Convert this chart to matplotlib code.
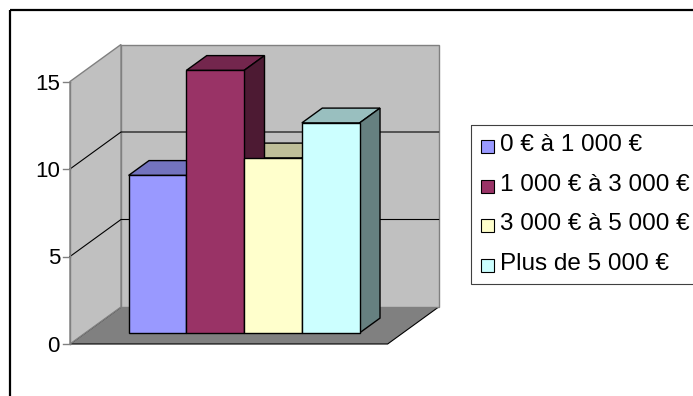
import numpy as np
import matplotlib
matplotlib.use("Agg")
import matplotlib.pyplot as plt
from matplotlib.patches import Polygon, Rectangle

plt.rcParams['font.family'] = ['Liberation Sans', 'DejaVu Sans']

# Données
series = ["0 € à 1 000 €", "1 000 € à 3 000 €", "3 000 € à 5 000 €", "Plus de 5 000 €"]
valeurs = [9, 15, 10, 12]
couleurs = ["#9999FF", "#993366", "#FFFFCC", "#CCFFFF"]
graduations = [0, 5, 10, 15]
y_max = 15

# Géométrie de la vue 3D (unités : largeur de barre en x, valeur en y)
px_x = 57.75          # pixels par largeur de barre
px_y = 17.5           # pixels par unité de valeur
dx, dy = 51 / px_x, 37 / px_y     # profondeur totale
gap = 0.75            # demi-espacement (150 %)
largeur = len(valeurs) + 2 * gap
z0, z1 = 0.3, 0.7     # profondeur des barres


def ombre(c, f):
    r, g, b = matplotlib.colors.to_rgb(c)
    return (r * f, g * f, b * f)


fig = plt.figure(figsize=(6.93, 3.96), dpi=100)
ax = fig.add_axes([0, 0, 1, 1])
ax.set_xlim(-70 / px_x, 623 / px_x)
ax.set_ylim(-52 / px_y, 344 / px_y)
ax.axis("off")

# Murs et sol
gris = "#C0C0C0"
ax.add_patch(Polygon([(0, 0), (largeur, 0), (largeur + dx, dy), (dx, dy)],
                     closed=True, fc="#808080", ec="black", lw=0.8, zorder=1))
ax.add_patch(Polygon([(dx, dy), (largeur + dx, dy), (largeur + dx, y_max + dy), (dx, y_max + dy)],
                     closed=True, fc=gris, ec="#808080", lw=1, zorder=1))
ax.add_patch(Polygon([(0, 0), (dx, dy), (dx, y_max + dy), (0, y_max)],
                     closed=True, fc=gris, ec="#808080", lw=1, zorder=1))

# Quadrillage
for v in graduations[1:-1]:
    ax.plot([0, dx, largeur + dx], [v, v + dy, v + dy], color="black", lw=0.8, zorder=2)

# Axe vertical, graduations
ax.plot([0, 0], [0, y_max], color="#808080", lw=1, zorder=2)
for v in graduations:
    ax.plot([-7 / px_x, 0], [v, v], color="#808080", lw=1, zorder=2)
    ax.text(-10 / px_x, v, str(v), ha="right", va="center_baseline", fontsize=16, zorder=3)

# Barres : dessus, côtés puis faces avant
xs = [gap + i + z0 * dx for i in range(len(valeurs))]
yb = z0 * dy
ddx, ddy = (z1 - z0) * dx, (z1 - z0) * dy
for x0, v, c in zip(xs, valeurs, couleurs):
    ax.add_patch(Polygon([(x0, yb + v), (x0 + 1, yb + v), (x0 + 1 + ddx, yb + v + ddy), (x0 + ddx, yb + v + ddy)],
                         closed=True, fc=ombre(c, 0.75), ec="black", lw=1, zorder=4))
for x0, v, c in zip(xs, valeurs, couleurs):
    ax.add_patch(Polygon([(x0 + 1, yb), (x0 + 1 + ddx, yb + ddy), (x0 + 1 + ddx, yb + v + ddy), (x0 + 1, yb + v)],
                         closed=True, fc=ombre(c, 0.5), ec="black", lw=1, zorder=5))
for x0, v, c in zip(xs, valeurs, couleurs):
    ax.add_patch(Rectangle((x0, yb), 1, v, fc=c, ec="black", lw=1, zorder=6))

# Cadre et légende (coordonnées en pixels)
deco = fig.add_axes([0, 0, 1, 1], facecolor="none")
deco.set_xlim(0, 693)
deco.set_ylim(396, 0)
deco.axis("off")
deco.add_patch(Rectangle((10, 10), 700, 400, fill=False, ec="black", lw=1.6))
deco.add_patch(Rectangle((471, 125), 240, 159, fill=False, ec="#404040", lw=0.8))
for i, (nom, c) in enumerate(zip(series, couleurs)):
    yl = 151 + i * 39.7
    deco.add_patch(Rectangle((481, yl - 11), 13, 13, fc=c, ec="black", lw=0.8))
    deco.text(500, yl, nom, ha="left", va="baseline", fontsize=17.5)

fig.savefig("out.png", dpi=100)
